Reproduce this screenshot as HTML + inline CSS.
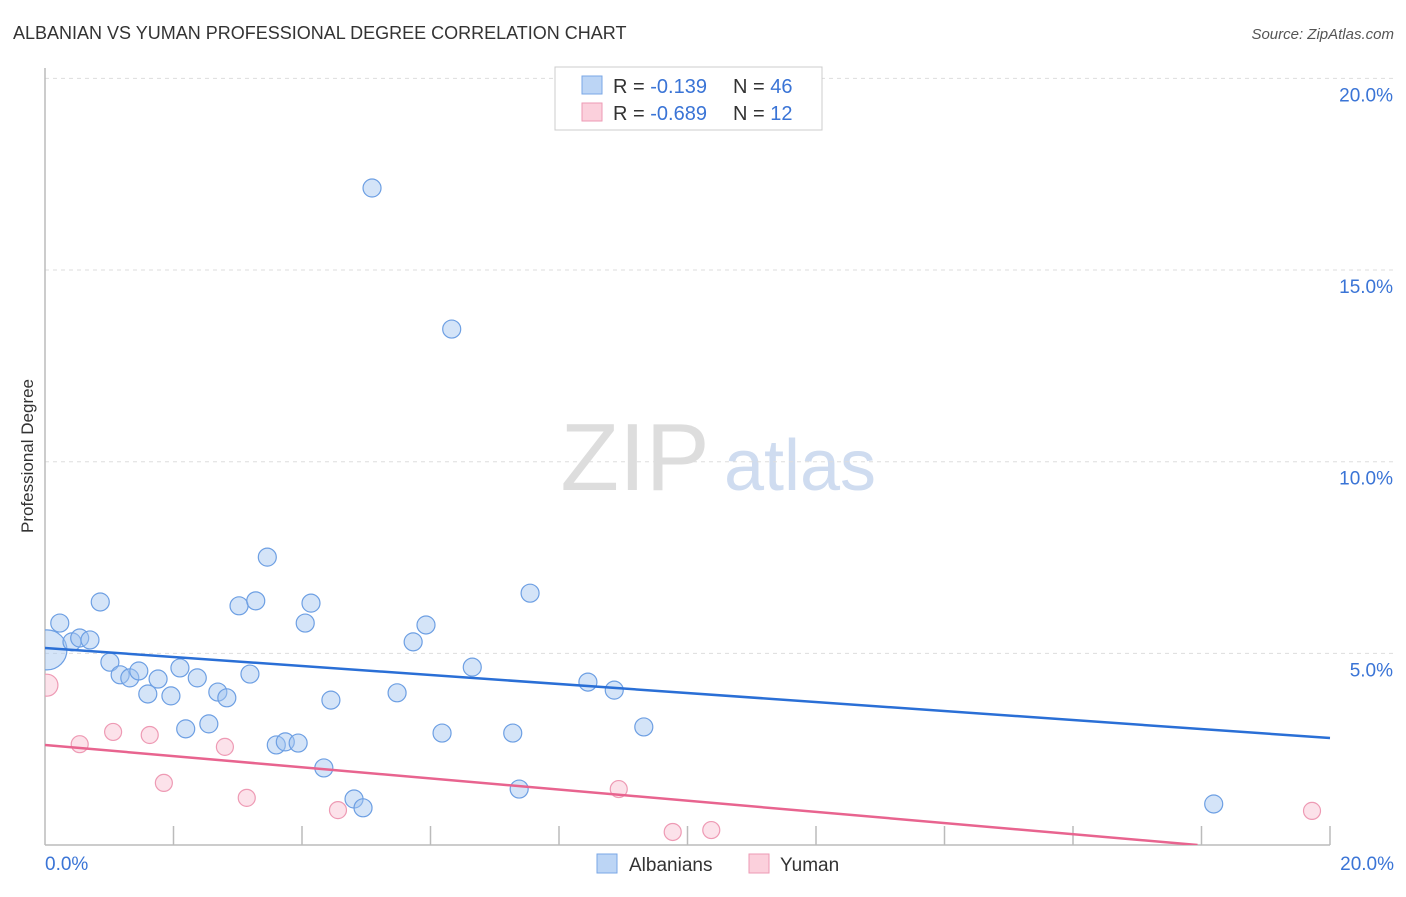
<!DOCTYPE html>
<html><head><meta charset="utf-8">
<style>
body{margin:0;background:#fff;font-family:"Liberation Sans",sans-serif;}
svg text{font-family:"Liberation Sans",sans-serif;}
</style></head>
<body>
<svg id="chart" width="1406" height="892" xmlns="http://www.w3.org/2000/svg">
<defs><clipPath id="plotclip"><rect x="45" y="60" width="1360" height="785"/></clipPath></defs>
<text x="13" y="39" font-size="18" fill="#333">ALBANIAN VS YUMAN PROFESSIONAL DEGREE CORRELATION CHART</text>
<text x="1394" y="39" font-size="15" fill="#555" font-style="italic" text-anchor="end">Source: ZipAtlas.com</text>
<g>
<text x="635" y="490" font-size="96" fill="#ddd" font-family="Liberation Serif" text-anchor="middle">ZIP</text>
<text x="800" y="490" font-size="72" fill="#cfdcf0" text-anchor="middle">atlas</text>
</g>
<g id="grid"></g>
<g id="axes"></g>
<g id="marks" clip-path="url(#plotclip)"></g>
<text transform="translate(33,456) rotate(-90)" font-size="17" fill="#333" text-anchor="middle">Professional Degree</text>
<g>
<rect x="555" y="67" width="267" height="63" fill="#fff" stroke="#ccc"/>
<rect x="582" y="76" width="20" height="18" fill="#bcd5f5" stroke="#7aa7e6"/>
<rect x="582" y="103" width="20" height="18" fill="#fbd0dc" stroke="#ee9ab4"/>
<text x="613" y="93" font-size="20" fill="#333">R = <tspan fill="#3a74d6"> -0.139</tspan><tspan x="733">N = </tspan><tspan fill="#3a74d6">46</tspan></text>
<text x="613" y="120" font-size="20" fill="#333">R = <tspan fill="#3a74d6">-0.689</tspan><tspan x="733">N = </tspan><tspan fill="#3a74d6"> 12</tspan></text>
</g>
<g>
<rect x="597" y="854" width="20" height="19" fill="#bcd5f5" stroke="#7aa7e6"/>
<text x="629" y="871" font-size="19" fill="#333">Albanians</text>
<rect x="749" y="854" width="20" height="19" fill="#fbd0dc" stroke="#ee9ab4"/>
<text x="780" y="871" font-size="19" fill="#333">Yuman</text>
</g>
</svg>
<script>
const yTicks=[5,10,15,20];
const yTickLabels=["5.0%","10.0%","15.0%","20.0%"];
const albX=[0.03,0.23,0.42,0.54,0.70,0.86,1.01,1.17,1.32,1.46,1.60,1.76,1.96,2.10,2.19,2.37,2.55,2.69,2.83,3.02,3.19,3.28,3.46,3.60,3.74,3.94,4.05,4.14,4.34,4.45,4.81,4.95,5.09,5.48,5.73,5.93,6.18,6.33,6.65,7.28,7.38,7.55,8.45,8.86,9.32,18.19];
const albY=[5.09,5.79,5.30,5.40,5.35,6.34,4.77,4.44,4.36,4.54,3.94,4.33,3.89,4.62,3.03,4.36,3.16,3.99,3.84,6.24,4.46,6.37,7.51,2.61,2.69,2.66,5.79,6.31,2.01,3.78,1.20,0.97,17.14,3.97,5.30,5.74,2.92,13.46,4.64,2.92,1.46,6.57,4.25,4.04,3.08,1.07];
const yumX=[0.03,0.54,1.06,1.63,1.85,2.80,3.14,4.56,8.93,9.77,10.37,19.72];
const yumY=[4.17,2.63,2.95,2.87,1.62,2.56,1.23,0.91,1.46,0.34,0.39,0.89];
const albTrend=[5.14,2.79];
const yumTrend=[2.61,-0.30];
const X=v=>45+v*64.25, Y=v=>845-v*38.33;
const NS="http://www.w3.org/2000/svg";
function mk(t,a,p){const e=document.createElementNS(NS,t);for(const k in a)e.setAttribute(k,a[k]);document.getElementById(p).appendChild(e);return e;}
yTicks.forEach((t,i)=>{
 const l=mk('line',{x1:45,x2:1394,y1:Y(t),y2:Y(t),stroke:'#ddd','stroke-dasharray':'4,4'},'grid');
 
 
 const tx=mk('text',{x:1393,y:Y(t)+23,'font-size':19,fill:'#3a74d6','text-anchor':'end'},'axes');
 tx.textContent=yTickLabels[i];
 
 
});
let ax=mk('line',{x1:45,x2:45,y1:68,y2:845,stroke:'#bbb','stroke-width':1.5},'axes');


ax=mk('line',{x1:45,x2:1330,y1:845,y2:845,stroke:'#bbb','stroke-width':1.5},'axes');


for(let i=1;i<=10;i++){const t=mk('line',{x1:X(i*2),x2:X(i*2),y1:826,y2:845,stroke:'#bbb','stroke-width':1.5},'axes');
 
 }
let xl=mk('text',{x:45,y:870,'font-size':19,fill:'#3a74d6'},'axes');xl.textContent='0.0%';


xl=mk('text',{x:1394,y:870,'font-size':19,fill:'#3a74d6','text-anchor':'end'},'axes');xl.textContent='20.0%';


albX.forEach((x,i)=>{const c=mk('circle',{cx:X(x),cy:Y(albY[i]),r:i==0?20:9,fill:'rgba(160,196,240,0.45)',stroke:'#6d9fe3','stroke-width':1.2},'marks');
 
 });
yumX.forEach((x,i)=>{const c=mk('circle',{cx:X(x),cy:Y(yumY[i]),r:i==0?11:8.5,fill:'rgba(248,190,208,0.45)',stroke:'#ee9ab4','stroke-width':1.2},'marks');
 
 });
let tl=mk('line',{x1:X(0),y1:Y(albTrend[0]),x2:X(20),y2:Y(albTrend[1]),stroke:'#2a6fd6','stroke-width':2.5},'marks');


const xz=yumTrend[0]/(yumTrend[0]-yumTrend[1])*20;
const xe=Math.min(20,xz);
tl=mk('line',{x1:X(0),y1:Y(yumTrend[0]),x2:X(xe),y2:Y(yumTrend[0]+(yumTrend[1]-yumTrend[0])*xe/20),stroke:'#e8648f','stroke-width':2.5},'marks');


</script>
</body></html>
